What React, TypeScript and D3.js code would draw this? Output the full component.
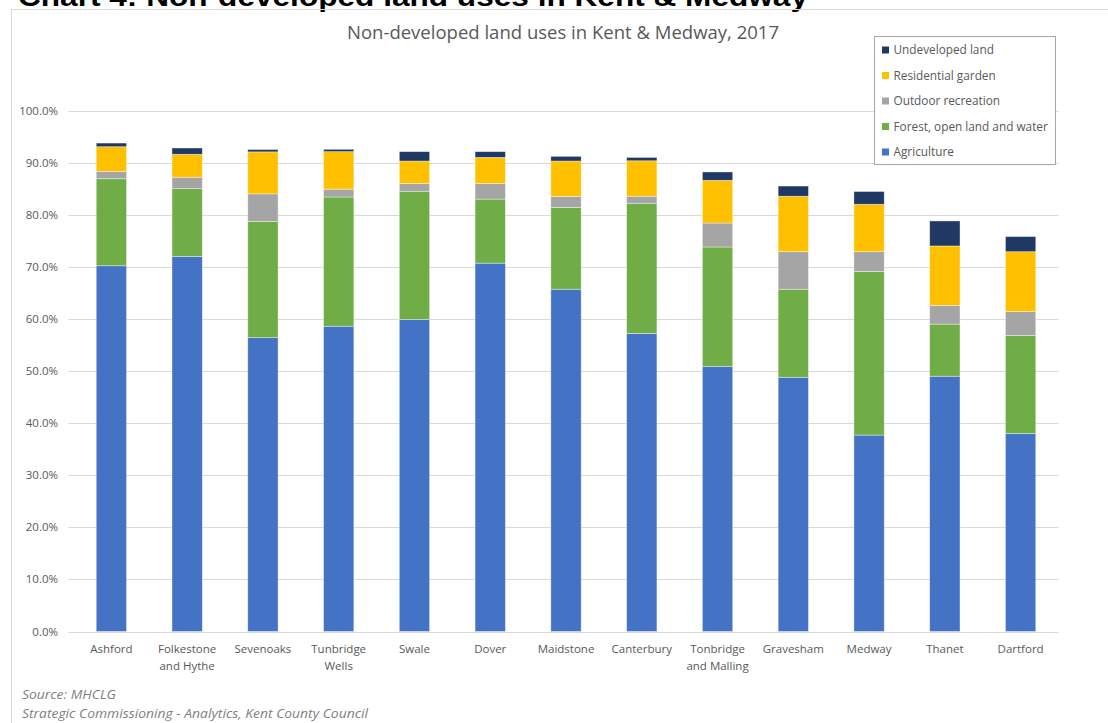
import React from "react";
import * as d3 from "d3";

const categories = ["Ashford", "Folkestone and Hythe", "Sevenoaks", "Tunbridge Wells", "Swale", "Dover", "Maidstone", "Canterbury", "Tonbridge and Malling", "Gravesham", "Medway", "Thanet", "Dartford"];
const categoryLines = [["Ashford"], ["Folkestone", "and Hythe"], ["Sevenoaks"], ["Tunbridge", "Wells"], ["Swale"], ["Dover"], ["Maidstone"], ["Canterbury"], ["Tonbridge", "and Malling"], ["Gravesham"], ["Medway"], ["Thanet"], ["Dartford"]];

const agriculture = [70.2, 72.0, 56.4, 58.6, 59.9, 70.7, 65.7, 57.2, 50.9, 48.8, 37.7, 49.0, 38.0];
const forest = [16.7, 13.0, 22.3, 24.8, 24.6, 12.3, 15.7, 25.0, 22.9, 16.9, 31.4, 10.0, 18.8];
const outdoor = [1.4, 2.2, 5.3, 1.5, 1.5, 3.0, 2.1, 1.35, 4.6, 7.2, 3.8, 3.6, 4.6];
const garden = [4.75, 4.4, 8.06, 7.2, 4.3, 5.0, 6.8, 6.8, 8.2, 10.65, 9.1, 11.4, 11.5];
const undeveloped = [0.7, 1.2, 0.45, 0.45, 1.8, 1.1, 0.9, 0.64, 1.6, 1.95, 2.45, 4.8, 2.9];

const seriesNames = ["Agriculture", "Forest, open land and water", "Outdoor recreation", "Residential garden", "Undeveloped land"];
const seriesValues = [agriculture, forest, outdoor, garden, undeveloped];
const seriesColors = ["#4472C4", "#70AD47", "#A5A5A5", "#FFC000", "#203864"];
const yTicks = [0, 10, 20, 30, 40, 50, 60, 70, 80, 90, 100];

const W = 1108, H = 723;
const FONT = "'Open Sans', 'Noto Sans', sans-serif";

export default function App() {
  const x = d3.scaleBand<string>().domain(categories).range([73.5, 1058.5]).paddingInner(0.6).paddingOuter(0.3);
  const y = d3.scaleLinear().domain([0, 100]).range([631.5, 110.5]);

  const rows = categories.map((c, i) => {
    const r: any = { cat: c };
    seriesNames.forEach((s, k) => (r[s] = seriesValues[k][i]));
    return r;
  });
  const stacked = d3.stack<any>().keys(seriesNames)(rows);

  const legendOrder = [4, 3, 2, 1, 0];

  return (
    <svg width={W} height={H} style={{ position: "absolute", left: 0, top: 0, background: "#fff" }} fontFamily={FONT}>
      <text x={18} y={6} fontSize={27} fontWeight="bold" fill="#000" fontFamily="'Liberation Sans', Arial, sans-serif" textLength={790} lengthAdjust="spacingAndGlyphs">
        Chart 4: Non-developed land uses in Kent &amp; Medway
      </text>
      <line x1={11} x2={W} y1={9.5} y2={9.5} stroke="#d9d9d9" />
      <line x1={11.5} x2={11.5} y1={9.5} y2={H} stroke="#d9d9d9" />

      <text x={347} y={39} fontSize={17.5} fill="#595959" textLength={432} lengthAdjust="spacingAndGlyphs">
        Non-developed land uses in Kent &amp; Medway, 2017
      </text>

      {yTicks.map((t) => (
        <g key={t}>
          <line x1={68} x2={1058.5} y1={Math.round(y(t)) + 0.5} y2={Math.round(y(t)) + 0.5} stroke="#d9d9d9" strokeWidth={1} />
          <text x={58} y={y(t) + 4} textAnchor="end" fontSize={11.5} fill="#595959">
            {d3.format(".1f")(t)}%
          </text>
        </g>
      ))}

      {stacked.map((layer, k) => (
        <g key={layer.key} fill={seriesColors[k]}>
          {layer.map((d, i) => (
            <rect key={i} x={x(categories[i])} width={x.bandwidth()} y={y(d[1])} height={y(d[0]) - y(d[1])} stroke="#ffffff" strokeOpacity={0.5} strokeWidth={0.75} />
          ))}
        </g>
      ))}

      {categories.map((c, i) => (
        <text key={c} x={(x(c) as number) + x.bandwidth() / 2} y={653} textAnchor="middle" fontSize={11.5} fill="#595959">
          {categoryLines[i].map((ln, j) => (
            <tspan key={j} x={(x(c) as number) + x.bandwidth() / 2} dy={j === 0 ? 0 : 16.5}>
              {ln}
            </tspan>
          ))}
        </text>
      ))}

      <rect x={874.5} y={36.5} width={181} height={128} fill="#fff" stroke="#a6a6a6" />
      {legendOrder.map((k, j) => (
        <g key={k} transform={`translate(0, ${50 + j * 25.5})`}>
          <rect x={882} y={-3.5} width={7} height={7} fill={seriesColors[k]} />
          <text x={893.5} y={4} fontSize={11.8} fill="#595959">
            {seriesNames[k]}
          </text>
        </g>
      ))}

      <text x={22} y={699} fontSize={13} fontStyle="italic" fill="#7f7f7f" textLength={94} lengthAdjust="spacingAndGlyphs">Source: MHCLG</text>
      <text x={22} y={718} fontSize={13} fontStyle="italic" fill="#7f7f7f" textLength={346} lengthAdjust="spacingAndGlyphs">Strategic Commissioning - Analytics, Kent County Council</text>
    </svg>
  );
}
